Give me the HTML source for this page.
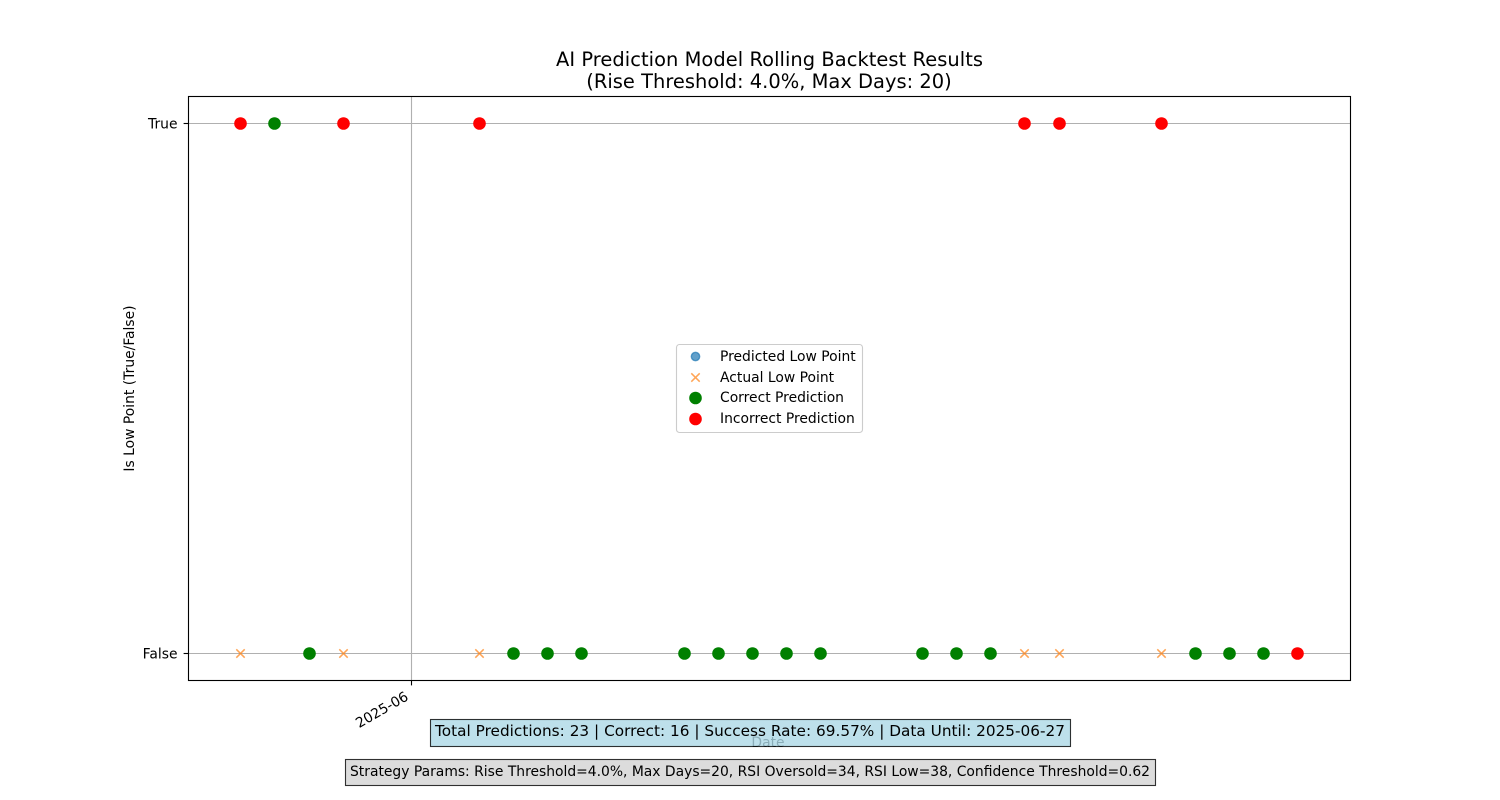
<!DOCTYPE html>
<html lang="en">
<head>
<meta charset="utf-8">
<title>AI Prediction Model Rolling Backtest Results</title>
<style>
html,body{margin:0;padding:0;background:#fff;width:1500px;height:800px;overflow:hidden}
svg{display:block}
text{font-family:"DejaVu Sans","Liberation Sans",sans-serif;fill:#000}
</style>
</head>
<body>
<svg id="chart" xmlns="http://www.w3.org/2000/svg" width="1500" height="800" viewBox="0 0 1500 800">
  <rect x="0" y="0" width="1500" height="800" fill="#fff"/>
  <rect x="188.5" y="96.5" width="1162" height="584" fill="#fff"/>
  <g id="grid"></g>
  <g id="marks-predicted"></g>
  <g id="marks-actual"></g>
  <g id="marks-outcome"></g>
  <rect x="188.5" y="96.5" width="1162" height="584" fill="none" stroke="#000" stroke-width="1.11"/>
  <g id="ticks"></g>
  <text x="769.5" y="66" font-size="19.44" text-anchor="middle" textLength="427" lengthAdjust="spacing">AI Prediction Model Rolling Backtest Results</text>
  <text x="769" y="88" font-size="19.44" text-anchor="middle" textLength="365.5" lengthAdjust="spacing">(Rise Threshold: 4.0%, Max Days: 20)</text>
  <text transform="translate(134,388.5) rotate(-90)" font-size="13.89" text-anchor="middle">Is Low Point (True/False)</text>
  <text x="768" y="747" font-size="13.89" text-anchor="middle">Date</text>

  <g>
    <rect x="676.5" y="344.5" width="186" height="88" rx="3" ry="3" fill="#fff" fill-opacity="0.8" stroke="#ccc" stroke-width="1.11"/>
    <g>
      <circle cx="695.5" cy="356.5" r="4.17" fill="#1f77b4" fill-opacity="0.7" stroke="#1f77b4" stroke-opacity="0.7" stroke-width="1.39"/>
      <text x="720" y="361" font-size="13.89">Predicted Low Point</text>
    </g>
    <g>
      <path d="M691.3 373.3l8.4 8.4M699.7 373.3l-8.4 8.4" stroke="#ff7f0e" stroke-opacity="0.7" stroke-width="1.5" fill="none"/>
      <text x="720" y="382" font-size="13.89">Actual Low Point</text>
    </g>
    <g>
      <circle cx="695.5" cy="398" r="6.3" fill="#008000"/>
      <text x="720" y="402" font-size="13.89">Correct Prediction</text>
    </g>
    <g>
      <circle cx="695.5" cy="419" r="6.3" fill="#ff0000"/>
      <text x="720" y="423" font-size="13.89">Incorrect Prediction</text>
    </g>
  </g>

  <g>
    <rect x="430.5" y="719.5" width="640" height="27" fill="#add8e6" fill-opacity="0.8" stroke="#000" stroke-opacity="0.8" stroke-width="1.11"/>
    <text x="750" y="736" font-size="15.28" text-anchor="middle" textLength="630" lengthAdjust="spacing">Total Predictions: 23 | Correct: 16 | Success Rate: 69.57% | Data Until: 2025-06-27</text>
  </g>
  <g>
    <rect x="345.5" y="759.5" width="810" height="26" fill="#d3d3d3" fill-opacity="0.8" stroke="#000" stroke-opacity="0.8" stroke-width="1.11"/>
    <text x="750" y="776" font-size="13.89" text-anchor="middle" textLength="800" lengthAdjust="spacing">Strategy Params: Rise Threshold=4.0%, Max Days=20, RSI Oversold=34, RSI Low=38, Confidence Threshold=0.62</text>
  </g>
</svg>
<script>
const dates = ["2025-05-27","2025-05-28","2025-05-29","2025-05-30","2025-06-03","2025-06-04","2025-06-05","2025-06-06","2025-06-09","2025-06-10","2025-06-11","2025-06-12","2025-06-13","2025-06-16","2025-06-17","2025-06-18","2025-06-19","2025-06-20","2025-06-23","2025-06-24","2025-06-25","2025-06-26","2025-06-27"];
const predicted = [1,1,0,1,1,0,0,0,0,0,0,0,0,0,0,0,1,1,1,0,0,0,0];
const actual = [0,1,0,0,0,0,0,0,0,0,0,0,0,0,0,0,0,0,0,0,0,0,null];
const correct = [0,1,1,0,0,1,1,1,1,1,1,1,1,1,1,1,0,0,0,1,1,1,0];
const xTickDates = ["2025-06-01"];
const xTickLabels = ["2025-06"];
const yTickValues = [0,1];
const yTickLabels = ["False","True"];

const SVG_NS = "http://www.w3.org/2000/svg";
const plot = {left:188.03,right:1350.5,top:96.5,bottom:680.5};
const toDay = function(s){return Date.parse(s+"T00:00:00Z")/86400000;};
const dayValues = dates.map(toDay);
const dayMin = Math.min.apply(null,dayValues);
const dayMax = Math.max.apply(null,dayValues);
const dayPad = (dayMax-dayMin)*0.05;
const snap = function(v){return Math.floor(v)+0.5;};
const xScale = function(s){
  return snap(plot.left+(toDay(s)-(dayMin-dayPad))/((dayMax+dayPad)-(dayMin-dayPad))*(plot.right-plot.left));
};
const yScale = function(v){
  return snap(plot.bottom-(v+0.05)/1.1*(plot.bottom-plot.top));
};
function make(tag,attrs,parent){
  const el=document.createElementNS(SVG_NS,tag);
  for(const k in attrs){el.setAttribute(k,attrs[k]);}
  parent.appendChild(el);
  return el;
}
const gridG=document.getElementById("grid");
const ticksG=document.getElementById("ticks");
const predG=document.getElementById("marks-predicted");
const actG=document.getElementById("marks-actual");
const outG=document.getElementById("marks-outcome");

xTickDates.forEach(function(d,i){
  const x=xScale(d);
  const g=make("line",{x1:x,x2:x,y1:96.5,y2:680.5,stroke:"#b0b0b0","stroke-width":1.11},gridG);
  
  
  const t=make("line",{x1:x,x2:x,y1:680.5,y2:685.4,stroke:"#000","stroke-width":1.11},ticksG);
  
  
  const l=make("text",{transform:"translate("+(x-7)+",691) rotate(-30)","font-size":13.89,"text-anchor":"end","dominant-baseline":"hanging"},ticksG);
  l.textContent=xTickLabels[i];
  
  
});
yTickValues.forEach(function(v,i){
  const y=yScale(v);
  const g=make("line",{x1:188.5,x2:1350.5,y1:y,y2:y,stroke:"#b0b0b0","stroke-width":1.11},gridG);
  
  
  const t=make("line",{x1:183.6,x2:188.5,y1:y,y2:y,stroke:"#000","stroke-width":1.11},ticksG);
  
  
  const l=make("text",{x:177.5,y:y+5,"font-size":13.89,"text-anchor":"end"},ticksG);
  l.textContent=yTickLabels[i];
  
  
});
dates.forEach(function(d,i){
  const x=xScale(d);
  const p=make("circle",{cx:x,cy:yScale(predicted[i]),r:4.17,fill:"#1f77b4","fill-opacity":0.7,stroke:"#1f77b4","stroke-opacity":0.7,"stroke-width":1.39},predG);
  
  
  if(actual[i]!==null){
    const ay=yScale(actual[i]);
    const a=make("path",{d:"M"+(x-4.2)+" "+(ay-4.2)+"l8.4 8.4M"+(x+4.2)+" "+(ay-4.2)+"l-8.4 8.4",stroke:"#ff7f0e","stroke-opacity":0.7,"stroke-width":1.5,fill:"none"},actG);
    
    
  }
  const o=make("circle",{cx:x,cy:yScale(predicted[i]),r:6.3,fill:correct[i]?"#008000":"#ff0000"},outG);
  
  
});
</script>
</body>
</html>
